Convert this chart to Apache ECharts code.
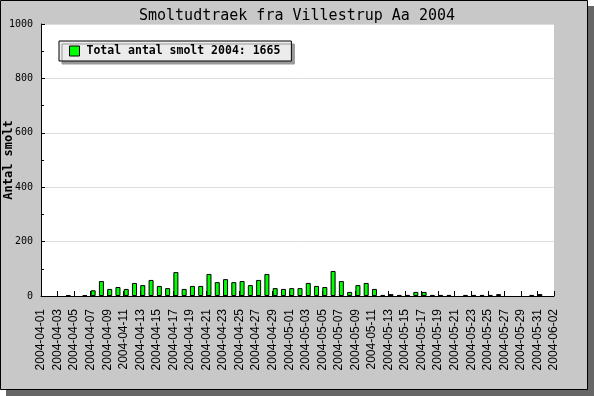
<!DOCTYPE html>
<html>
<head>
<meta charset="utf-8">
<script src="https://cdn.jsdelivr.net/npm/echarts@6/dist/echarts.min.js"></script>
<style>
html,body{margin:0;padding:0;background:#fff;}
#chart{width:594px;height:396px;}
</style>
</head>
<body>
<div id="chart"></div>
<script>
const chartTitle = 'Smoltudtraek fra Villestrup Aa 2004';
const yAxisName = 'Antal smolt';
const totalSmolt = 1665;
const seriesName = 'Total antal smolt 2004: ' + totalSmolt;

const categories = [
  '2004-04-01','2004-04-02','2004-04-03','2004-04-04','2004-04-05','2004-04-06','2004-04-07','2004-04-08','2004-04-09','2004-04-10',
  '2004-04-11','2004-04-12','2004-04-13','2004-04-14','2004-04-15','2004-04-16','2004-04-17','2004-04-18','2004-04-19','2004-04-20',
  '2004-04-21','2004-04-22','2004-04-23','2004-04-24','2004-04-25','2004-04-26','2004-04-27','2004-04-28','2004-04-29','2004-04-30',
  '2004-05-01','2004-05-02','2004-05-03','2004-05-04','2004-05-05','2004-05-06','2004-05-07','2004-05-08','2004-05-09','2004-05-10',
  '2004-05-11','2004-05-12','2004-05-13','2004-05-14','2004-05-15','2004-05-16','2004-05-17','2004-05-18','2004-05-19','2004-05-20',
  '2004-05-21','2004-05-22','2004-05-23','2004-05-24','2004-05-25','2004-05-26','2004-05-27','2004-05-28','2004-05-29','2004-05-30',
  '2004-05-31','2004-06-01','2004-06-02'
];

const smolt = [
  0,0,0,3,0,3,21,55,26,33,
  26,48,40,59,37,29,88,26,37,37,
  81,51,62,51,55,40,59,81,29,26,
  29,29,48,37,33,92,55,15,40,48,
  26,4,7,4,4,15,15,4,4,4,
  0,4,4,4,4,7,0,0,0,4,
  7,0,0
];

const yMin = 0, yMax = 1000, yStep = 200;

const chart = echarts.init(document.getElementById('chart'), null, {renderer:'canvas'});
const mono = 'DejaVu Sans Mono';

chart.setOption({
  animation: false,
  backgroundColor: '#ffffff',
  graphic: [
    {type:'rect', z:-10, shape:{x:6,y:6,width:588,height:390}, style:{fill:'#666666'}},
    {type:'rect', z:-9, shape:{x:0.5,y:0.5,width:587,height:389}, style:{fill:'#c8c8c8', stroke:'#000000', lineWidth:1}}
  ],
  title: {
    text: chartTitle,
    left: 'center',
    top: 4,
    textStyle: {fontFamily: mono, fontSize: 15, fontWeight: 'normal', color: '#000'}
  },
  legend: {
    data: [seriesName],
    left: 59,
    top: 41,
    orient: 'horizontal',
    padding: [4, 11, 4, 10],
    itemWidth: 10,
    itemHeight: 10,
    icon: 'rect',
    backgroundColor: '#ececec',
    borderColor: '#000',
    borderWidth: 1,
    borderRadius: 0,
    shadowColor: '#999999',
    shadowBlur: 0,
    shadowOffsetX: 3,
    shadowOffsetY: 3,
    textStyle: {fontFamily: mono, fontSize: 11.5, fontWeight: 'bold', color: '#000', padding: [0,0,0,2]},
    itemStyle: {borderColor:'#000', borderWidth:1}
  },
  grid: {
    left: 41, right: 40, top: 24, bottom: 100,
    show: true, backgroundColor: '#ffffff', borderWidth: 0,
    containLabel: false,
    outerBoundsMode: 'none'
  },
  xAxis: {
    type: 'category',
    data: categories,
    boundaryGap: false,
    axisLine: {show: true, lineStyle: {color:'#000', width:1}},
    axisTick: {show: true, inside: true, length: 5, interval: 1, lineStyle:{color:'#000'}},
    axisLabel: {interval: 1, rotate: 90, margin: 13, fontFamily: 'Liberation Sans', fontSize: 12, color: '#000'},
    splitLine: {show: false}
  },
  yAxis: {
    type: 'value',
    min: yMin, max: yMax, interval: yStep,
    name: yAxisName,
    nameLocation: 'middle',
    nameRotate: 90,
    nameGap: 26,
    nameMoveOverlap: false,
    nameTextStyle: {fontFamily: mono, fontSize: 12, fontWeight: 'bold', color: '#000'},
    axisLine: {show: true, lineStyle: {color:'#000', width:1}},
    axisTick: {show: true, inside: true, length: 4, lineStyle:{color:'#000'}},
    minorTick: {show: true, splitNumber: 2, length: 3, lineStyle:{color:'#000'}},
    axisLabel: {margin: 8, fontFamily: mono, fontSize: 10, color: '#000', formatter: function (v) { return String(v); }},
    splitLine: {show: true, lineStyle: {color:'#dddddd', width:1}}
  },
  series: [
    {
      name: '_offset',
      type: 'bar',
      data: categories.map(() => '-'),
      barWidth: 5,
      barGap: '0%',
      silent: true,
      itemStyle: {color: 'transparent'}
    },
    {
      name: seriesName,
      type: 'bar',
      data: smolt.map(v => (v === 0 ? '-' : v)),
      barWidth: 5,
      barGap: '0%',
      itemStyle: {color: '#00ff00', borderColor: '#000', borderWidth: 1}
    }
  ]
});
</script>
</body>
</html>
